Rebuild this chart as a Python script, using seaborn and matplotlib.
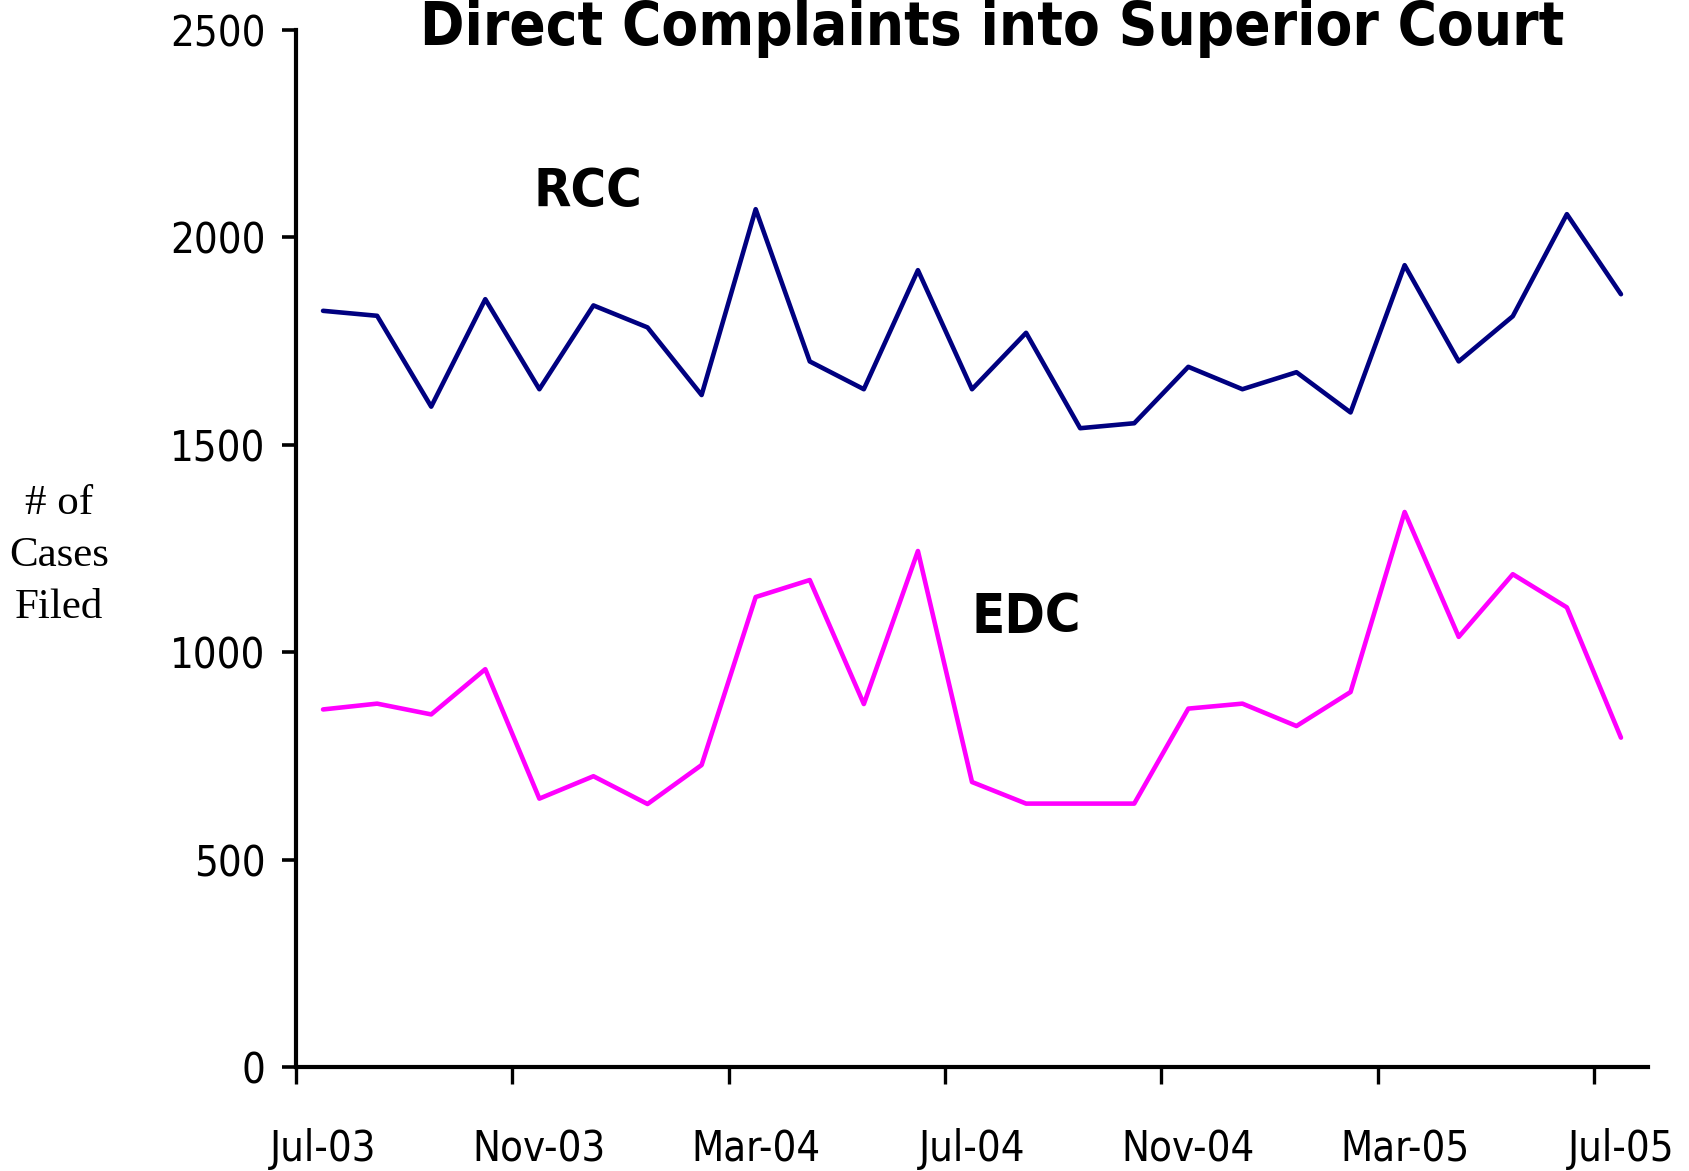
import numpy as np
import pandas as pd
import matplotlib
matplotlib.use("Agg")
import matplotlib.pyplot as plt
import seaborn as sns

months = ["Jul-03", "Aug-03", "Sep-03", "Oct-03", "Nov-03", "Dec-03", "Jan-04", "Feb-04",
          "Mar-04", "Apr-04", "May-04", "Jun-04", "Jul-04", "Aug-04", "Sep-04", "Oct-04",
          "Nov-04", "Dec-04", "Jan-05", "Feb-05", "Mar-05", "Apr-05", "May-05", "Jun-05", "Jul-05"]
rcc = [1823, 1811, 1592, 1851, 1634, 1836, 1783, 1620, 2068, 1701, 1634, 1921, 1634,
       1770, 1540, 1552, 1688, 1634, 1675, 1578, 1933, 1701, 1810, 2056, 1863]
edc = [862, 876, 850, 959, 647, 701, 634, 728, 1133, 1174, 875, 1244, 687,
       635, 635, 635, 864, 876, 822, 904, 1338, 1037, 1188, 1108, 794]
series_names = ["RCC", "EDC"]
tick_labels = ["Jul-03", "Nov-03", "Mar-04", "Jul-04", "Nov-04", "Mar-05", "Jul-05"]
y_ticks = [0, 500, 1000, 1500, 2000, 2500]

sns.set_theme(style="ticks")
narrow = ["DejaVu Sans", "Liberation Sans"]
plt.rcParams["font.family"] = narrow
plt.rcParams["font.stretch"] = "condensed"
plt.rcParams["text.color"] = "black"
plt.rcParams["xtick.color"] = "black"
plt.rcParams["ytick.color"] = "black"
plt.rcParams["axes.labelcolor"] = "black"

df = pd.DataFrame({
    "idx": list(range(len(months))) * 2,
    "value": rcc + edc,
    "series": [series_names[0]] * len(rcc) + [series_names[1]] * len(edc),
})

fig = plt.figure(figsize=(16.9, 11.71), dpi=100)
ax = fig.add_axes([296 / 1690, 1 - 1067 / 1171, (1648 - 296) / 1690, (1067 - 30) / 1171])

sns.lineplot(data=df, x="idx", y="value", hue="series",
             palette={"RCC": "#000080", "EDC": "#FF00FF"},
             linewidth=3.3, legend=False, ax=ax)

ax.set_xlim(-0.5, len(months) - 0.5)
ax.set_ylim(0, 2500)
ax.set_yticks(y_ticks)
ax.set_yticklabels([str(v) for v in y_ticks], fontsize=30, fontstretch="condensed")

# major ticks at category boundaries (no labels), minor ticks carry labels
label_pos = [months.index(m) for m in tick_labels]
ax.set_xticks([p - 0.5 for p in label_pos])
ax.set_xticklabels([""] * len(label_pos))
ax.set_xticks(label_pos, minor=True)
ax.set_xticklabels(tick_labels, minor=True, fontsize=30, fontstretch="condensed")
ax.tick_params(axis="x", which="major", length=12, width=2.4, direction="out", color="black")
ax.tick_params(axis="x", which="minor", length=0, pad=44)
ax.tick_params(axis="y", which="major", length=10, width=2.6, pad=12, color="black")

for s in ["top", "right"]:
    ax.spines[s].set_visible(False)
for s in ["left", "bottom"]:
    ax.spines[s].set_linewidth(3.0)
    ax.spines[s].set_color("black")

ax.set_xlabel("")
ax.set_ylabel("")
ax.grid(False)

ax.text(4.9, 2110, "RCC", fontsize=39, fontweight="bold", ha="center", va="center",
        fontstretch="condensed")
ax.text(13.0, 1084, "EDC", fontsize=39, fontweight="bold", ha="center", va="center",
        fontstretch="condensed")

fig.text(992 / 1690, 1 - 45 / 1171, "Direct Complaints into Superior Court",
         fontsize=43, fontweight="bold", ha="center", va="baseline", fontstretch="condensed")

fig.text(59 / 1690, 1 - 556 / 1171, "# of\nCases\nFiled", fontsize=31,
         ha="center", va="center", family=["Liberation Serif", "DejaVu Serif"],
         linespacing=1.45)

fig.savefig("out.png", dpi=100, facecolor="white")
